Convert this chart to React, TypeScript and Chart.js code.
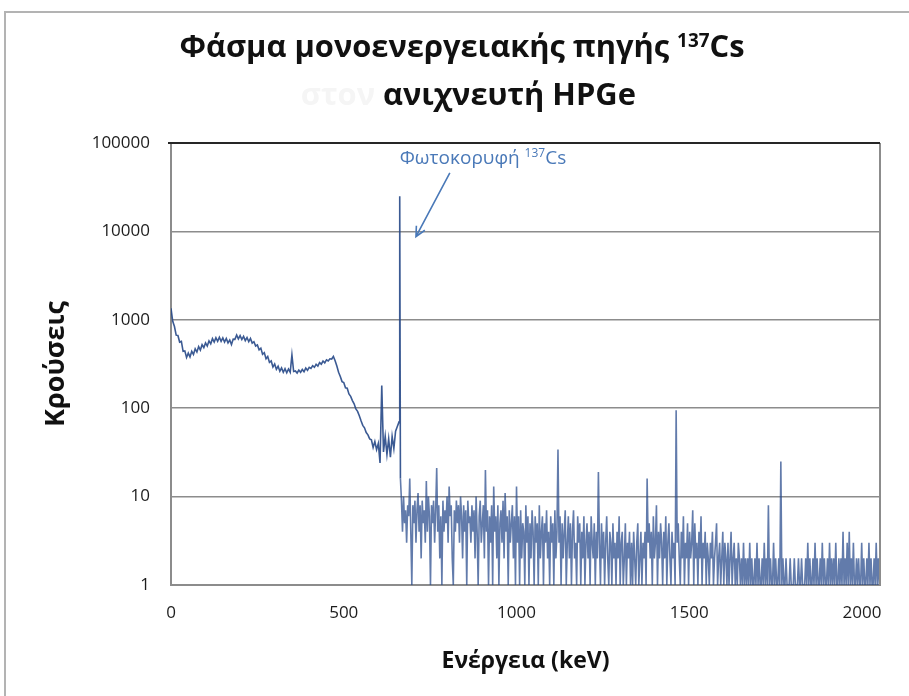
import React, { useEffect, useRef } from 'react';
import { Chart, registerables } from 'chart.js';

Chart.register(...registerables);

// Axis ranges and tick values
const energyMin = 0;
const energyMax = 2052;
const energyTicks = [0, 500, 1000, 1500, 2000];
const countMin = 1;
const countMax = 100000;
const countTicks = [1, 10, 100, 1000, 10000, 100000];

// Compton continuum below the photopeak: 5 keV bins from 0 keV
const continuumStart = 0;
const continuumStep = 5;
const continuumCounts = [
  1350, 960, 840, 670, 665, 560, 570, 440, 445, 375,
  420, 380, 440, 405, 470, 432, 498, 455, 522, 485,
  548, 505, 578, 535, 612, 560, 628, 572, 635, 570,
  625, 560, 615, 548, 590, 525, 605, 600, 672, 608,
  662, 598, 650, 582, 630, 565, 615, 545, 565, 505,
  520, 458, 478, 408, 425, 362, 385, 330, 342, 292,
  316, 275, 298, 262, 286, 255, 280, 252, 278, 255,
  400, 260, 264, 250, 270, 255, 274, 258, 284, 268,
  290, 282, 302, 290, 314, 300, 328, 315, 342, 326,
  352, 342, 362, 360, 385, 345, 300, 255, 228, 200,
  195, 170, 168, 145, 136, 122, 112, 98, 92, 82,
  72, 64, 60, 53, 50, 45, 44, 36, 42, 34,
  40, 24, 180, 32, 48, 30, 45, 28, 48, 35,
  55, 62,
];

// Cs-137 photopeak at 662 keV
const peakEnergy = 662;
const peakEnergies = [660, 662, 664];
const peakCounts = [70, 25000, 16];

// Spectrum above the photopeak: 3 keV bins
const tailStep = 3;
const tailStartA = 667;
const tailCountsA = [
  9, 4, 10, 5, 7, 3, 8, 6, 16, 4,
  1, 8, 5, 9, 3, 7, 11, 4, 8, 2,
  9, 5, 7, 3, 15, 4, 10, 6, 1, 8,
  5, 9, 3, 7, 21, 4, 8, 2, 6, 1,
  9, 4, 7, 5, 10, 3, 13, 6, 8, 2,
  1, 7, 4, 9, 5, 8, 3, 10, 6, 2,
  8, 4, 7, 1, 9, 5, 6, 3, 8, 4,
  7, 2, 10, 4, 1, 6, 9, 3, 5, 8,
  2, 20, 4, 7, 1, 6, 3, 8, 1, 13,
  4, 6, 2, 8, 1, 5, 7, 3, 9, 2,
  11, 4, 6, 1, 7, 3, 5, 8, 2, 6, 1,
];
const tailStartB = 1000;
const tailCountsB = [
  13, 3, 6, 1, 7, 2, 5, 4, 1, 8,
  3, 6, 1, 5, 2, 7, 4, 1, 6, 3,
  5, 1, 8, 2, 4, 6, 1, 5, 3, 7,
  2, 4, 1, 6, 3, 5, 1, 7, 2, 4,
  34, 3, 6, 1, 5, 2, 4, 7, 1, 3,
  6, 2, 5, 1, 4, 7, 2, 3, 1, 6,
  3, 5, 1, 4, 2, 6, 1, 3, 5, 2,
  4, 1, 6, 3, 2, 5, 1, 4, 2, 19,
  3, 1, 5, 2, 4, 1, 3, 6, 2, 1,
  4, 3, 1, 5, 2, 3, 1, 4, 2, 6,
  1, 3, 4, 1, 2, 5, 1, 3, 2, 4, 1,
];
const tailStartC = 1333;
const tailCountsC = [
  3, 1, 4, 2, 1, 3, 5, 1, 2, 4,
  1, 3, 2, 4, 1, 16, 3, 5, 2, 4,
  1, 6, 2, 3, 8, 1, 4, 2, 5, 3,
  1, 4, 2, 6, 1, 3, 5, 2, 1, 4,
  2, 3, 1, 95, 3, 5, 2, 1, 4, 2,
  6, 1, 3, 2, 5, 1, 4, 2, 3, 7,
  1, 5, 2, 3, 1, 4, 2, 6, 1, 3,
  2, 4, 1, 3, 2, 1, 3, 2, 4, 1,
  2, 3, 5, 1, 2, 3, 1, 2, 4, 1,
  3, 2, 1, 3, 1, 2, 4, 1, 2, 3,
  1, 2, 1, 3, 2, 1, 2, 1, 3, 1, 2,
];
const tailStartD = 1666;
const tailCountsD = [
  1, 2, 1, 3, 1, 2, 1, 1, 2, 1,
  3, 1, 2, 1, 1, 2, 1, 3, 1, 2,
  1, 8, 1, 2, 1, 1, 3, 1, 2, 1,
  1, 2, 1, 25, 1, 2, 1, 1, 2, 1,
  1, 1, 2, 1, 1, 1, 2, 1, 1, 1,
  2, 1, 1, 2, 1, 1, 1, 2, 1, 3,
  1, 2, 1, 1, 2, 1, 3, 1, 2, 1,
  1, 2, 1, 3, 1, 2, 1, 1, 2, 1,
  3, 1, 2, 1, 2, 1, 3, 1, 1, 2,
  1, 2, 1, 4, 1, 2, 1, 3, 1, 4,
  1, 2, 1, 3, 1, 1, 2, 1, 2, 1,
  1, 3, 1, 2, 1, 1, 2, 1, 3, 1,
  2, 1, 1, 2, 1, 3, 1, 2, 1,
];

// Texts
const titleMain = 'Φάσμα μονοενεργειακής πηγής ';
const isotopeMass = '137';
const isotopeSymbol = 'Cs';
const titleSecondFaint = 'στον';
const titleSecond = 'ανιχνευτή HPGe';
const peakLabel = 'Φωτοκορυφή ';
const xTitle = 'Ενέργεια (keV)';
const yTitle = 'Κρούσεις';

// Annotation anchors in data units
const labelAnchor = { x: peakEnergy, y: 58000 };
const arrowFrom = { x: 807, y: 46000 };
const arrowTo = { x: 709, y: 8700 };

const FONT = '"Open Sans", "Noto Sans", sans-serif';
const continuumColor = 'rgba(38, 72, 135, 0.9)';
const tailColor = 'rgba(38, 72, 138, 0.72)';
const annotationColor = '#4a79b8';

function binned(start: number, step: number, counts: number[]) {
  return counts.map((c, i) => ({ x: start + i * step, y: c }));
}

type Part = { text: string; font: string; rise: number };

function drawParts(ctx: CanvasRenderingContext2D, parts: Part[], x: number, baseline: number) {
  let cx = x;
  for (const p of parts) {
    ctx.font = p.font;
    ctx.fillText(p.text, cx, baseline - p.rise);
    cx += ctx.measureText(p.text).width;
  }
  return cx - x;
}

function partsWidth(ctx: CanvasRenderingContext2D, parts: Part[]) {
  let w = 0;
  for (const p of parts) {
    ctx.font = p.font;
    w += ctx.measureText(p.text).width;
  }
  return w;
}

const decorPlugin = {
  id: 'decor',
  afterDraw(chart: any) {
    const { ctx, chartArea, scales } = chart;
    const xs = scales.x;
    const ys = scales.y;
    ctx.save();

    // page frame
    ctx.strokeStyle = '#b3b3b3';
    ctx.lineWidth = 2;
    ctx.beginPath();
    ctx.moveTo(5, chart.height);
    ctx.lineTo(5, 12);
    ctx.lineTo(chart.width, 12);
    ctx.stroke();

    // plot area top and right edges
    ctx.strokeStyle = '#8c8c8c';
    ctx.lineWidth = 2;
    ctx.beginPath();
    ctx.moveTo(chartArea.right, chartArea.top);
    ctx.lineTo(chartArea.right, chartArea.bottom);
    ctx.stroke();
    ctx.strokeStyle = '#262626';
    ctx.beginPath();
    ctx.moveTo(chartArea.left - 3, chartArea.top);
    ctx.lineTo(chartArea.right, chartArea.top);
    ctx.stroke();

    // title
    ctx.textBaseline = 'alphabetic';
    ctx.textAlign = 'left';
    ctx.fillStyle = '#111';
    const big = `bold 31px ${FONT}`;
    const sup = `bold 19px ${FONT}`;
    const line1: Part[] = [
      { text: titleMain, font: big, rise: 0 },
      { text: isotopeMass, font: sup, rise: 10 },
      { text: isotopeSymbol, font: big, rise: 0 },
    ];
    const w1 = partsWidth(ctx, line1);
    const sx = Math.min(1, 565 / w1);
    ctx.save();
    ctx.translate(462, 57);
    ctx.scale(sx, 1);
    drawParts(ctx, line1, -w1 / 2, 0);
    ctx.restore();

    ctx.save();
    ctx.translate(383, 105);
    ctx.scale(sx, 1);
    ctx.fillStyle = '#111';
    drawParts(ctx, [{ text: titleSecond, font: big, rise: 0 }], 0, 0);
    ctx.font = big;
    const wf = ctx.measureText(titleSecondFaint + ' ').width;
    ctx.fillStyle = '#f5f5f5';
    ctx.fillText(titleSecondFaint, -wf, 0);
    ctx.restore();

    // photopeak annotation
    const lx = xs.getPixelForValue(labelAnchor.x);
    const ly = ys.getPixelForValue(labelAnchor.y);
    ctx.fillStyle = annotationColor;
    drawParts(
      ctx,
      [
        { text: peakLabel, font: `19px ${FONT}`, rise: 0 },
        { text: isotopeMass, font: `12px ${FONT}`, rise: 7 },
        { text: isotopeSymbol, font: `19px ${FONT}`, rise: 0 },
      ],
      lx,
      ly
    );
    const ax0 = xs.getPixelForValue(arrowFrom.x);
    const ay0 = ys.getPixelForValue(arrowFrom.y);
    const ax1 = xs.getPixelForValue(arrowTo.x);
    const ay1 = ys.getPixelForValue(arrowTo.y);
    ctx.strokeStyle = annotationColor;
    ctx.lineWidth = 1.6;
    ctx.beginPath();
    ctx.moveTo(ax0, ay0);
    ctx.lineTo(ax1, ay1);
    const ang = Math.atan2(ay1 - ay0, ax1 - ax0);
    const head = 11;
    ctx.moveTo(ax1 - head * Math.cos(ang - 0.45), ay1 - head * Math.sin(ang - 0.45));
    ctx.lineTo(ax1, ay1);
    ctx.lineTo(ax1 - head * Math.cos(ang + 0.45), ay1 - head * Math.sin(ang + 0.45));
    ctx.stroke();

    ctx.restore();
  },
};

export default function App() {
  const canvasRef = useRef<HTMLCanvasElement | null>(null);

  useEffect(() => {
    const canvas = canvasRef.current;
    if (!canvas) return;
    const lowPart = [
      ...binned(continuumStart, continuumStep, continuumCounts),
      ...peakEnergies.map((e, i) => ({ x: e, y: peakCounts[i] })),
    ];
    const highPart = [
      ...binned(tailStartA, tailStep, tailCountsA),
      ...binned(tailStartB, tailStep, tailCountsB),
      ...binned(tailStartC, tailStep, tailCountsC),
      ...binned(tailStartD, tailStep, tailCountsD),
    ];

    const tickFont = { family: FONT, size: 17 };
    const chart = new Chart(canvas, {
      type: 'line',
      data: {
        datasets: [
          {
            data: lowPart,
            borderColor: continuumColor,
            borderWidth: 1.6,
            pointRadius: 0,
            tension: 0,
            fill: false,
          },
          {
            data: [lowPart[lowPart.length - 1], ...highPart],
            borderColor: tailColor,
            borderWidth: 1.6,
            pointRadius: 0,
            tension: 0,
            fill: false,
          },
        ],
      },
      options: {
        animation: false,
        responsive: false,
        maintainAspectRatio: false,
        events: [],
        layout: { padding: { left: 0, top: 143, right: 29, bottom: 11 } },
        plugins: {
          legend: { display: false },
          title: { display: false },
          tooltip: { enabled: false },
        },
        scales: {
          x: {
            type: 'linear',
            min: energyMin,
            max: energyMax,
            afterBuildTicks: (scale: any) => {
              scale.ticks = energyTicks.map((v) => ({ value: v }));
            },
            afterFit: (scale: any) => {
              scale.height = 100;
            },
            grid: { display: false, drawTicks: false },
            border: { display: true, color: '#8c8c8c', width: 2 },
            ticks: {
              font: tickFont,
              color: '#1c1c1c',
              padding: 18,
              maxRotation: 0,
              autoSkip: false,
              callback: (v: any) => String(v),
            },
            title: {
              display: true,
              text: xTitle,
              font: { family: FONT, size: 23, weight: 'bold' },
              color: '#111',
              padding: { top: 0, bottom: 10 },
            },
          },
          y: {
            type: 'logarithmic',
            min: countMin,
            max: countMax,
            afterBuildTicks: (scale: any) => {
              scale.ticks = countTicks.map((v) => ({ value: v }));
            },
            afterFit: (scale: any) => {
              scale.width = 171;
            },
            grid: { color: '#8c8c8c', lineWidth: 1.5, drawTicks: false },
            border: { display: true, color: '#8c8c8c', width: 2 },
            ticks: {
              font: tickFont,
              color: '#1c1c1c',
              padding: 21,
              autoSkip: false,
              callback: (v: any) => String(v),
            },
            title: {
              display: true,
              text: yTitle,
              font: { family: FONT, size: 27, weight: 'bold' },
              color: '#111',
              padding: { top: 40, bottom: 0 },
            },
          },
        },
      },
      plugins: [decorPlugin],
    } as any);

    return () => chart.destroy();
  }, []);

  return (
    <div style={{ position: 'absolute', left: 0, top: 0, width: 909, height: 696, background: '#fff' }}>
      <canvas ref={canvasRef} width={909} height={696} style={{ display: 'block' }} />
    </div>
  );
}
